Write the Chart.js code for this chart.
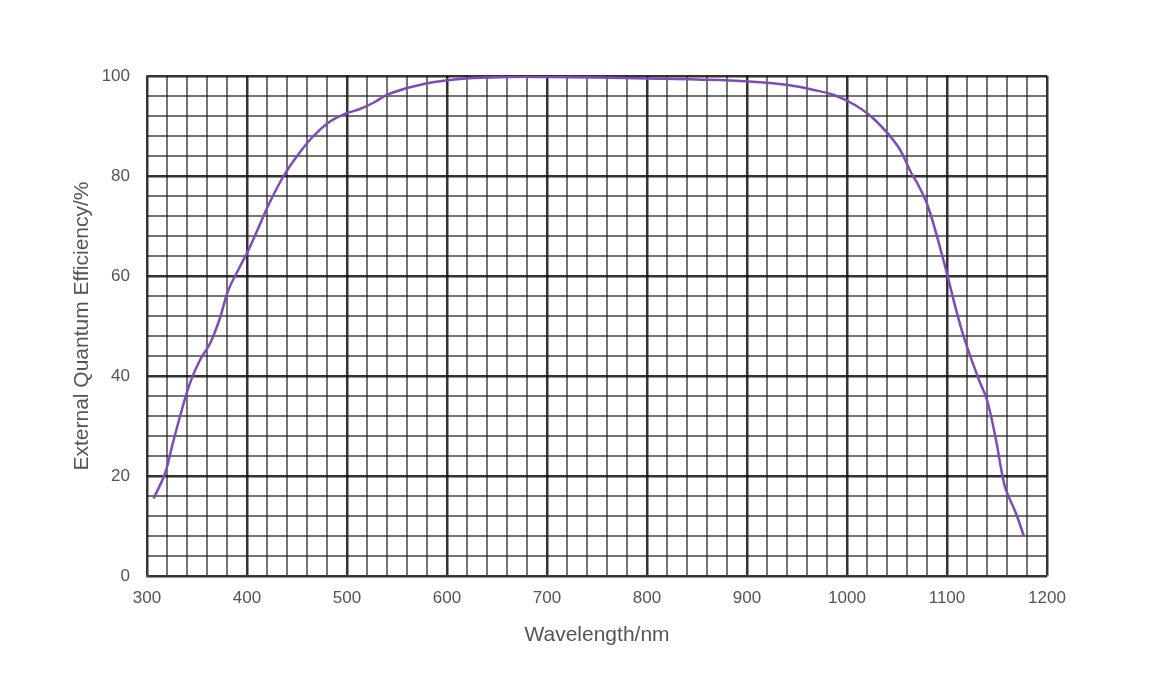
<!DOCTYPE html>
<html>
<head>
<meta charset="utf-8">
<script src="https://cdn.jsdelivr.net/npm/chart.js@4"></script>
<style>
  html,body{margin:0;padding:0;background:#fff;}
  #wrap{width:1172px;height:695px;}
</style>
</head>
<body>
<div id="wrap"><canvas id="eqe"></canvas></div>
<script>
// EQE curve
const wavelength = [306.6, 318, 325, 333, 343, 353, 363, 373, 381, 393, 401, 410, 421, 436, 449, 466, 483, 499, 513, 526, 543, 579, 619, 662, 700, 750, 802, 850, 902, 941, 967, 987, 1008, 1028, 1051, 1064, 1071, 1081, 1096, 1115, 1132, 1140, 1149, 1155, 1159, 1169, 1177];
const eqe        = [15.5, 20.5, 25.9, 31.9, 38.6, 43.2, 46.5, 51.6, 57.0, 61.9, 65.0, 69.0, 74.0, 79.8, 83.7, 87.9, 90.9, 92.5, 93.4, 94.6, 96.5, 98.5, 99.5, 99.8, 99.8, 99.7, 99.5, 99.3, 98.9, 98.2, 97.2, 96.2, 94.2, 91.2, 85.9, 80.7, 78.3, 73.9, 63.5, 49, 39.2, 35.2, 27.2, 20.5, 17.2, 12.5, 7.9];
const xLabelStep = 100, yLabelStep = 20;

const FONT = "'Liberation Sans', Arial, sans-serif";
const gridColor = (major)=> major ? 'rgba(15,15,15,0.85)' : 'rgba(30,30,30,0.62)';

new Chart(document.getElementById('eqe'),{
  type:'line',
  data:{datasets:[{
    data: wavelength.map((w,i)=>({x:w,y:eqe[i]})),
    borderColor:'#7d4cb8', borderWidth:2.5, pointRadius:0,
    tension:0.4, fill:false
  }]},
  options:{
    responsive:true, maintainAspectRatio:false, animation:false,
    layout:{padding:{left:0,top:76,right:125,bottom:40}},
    plugins:{legend:{display:false},tooltip:{enabled:false}},
    scales:{
      x:{type:'linear',min:300,max:1200,
        afterFit:s=>{s.height=79;},
        border:{display:true,color:'rgba(60,60,60,0.7)',width:1.5},
        grid:{drawTicks:false,
          color:c=>gridColor(c.tick && c.tick.value%xLabelStep===0),
          lineWidth:c=>(c.tick && c.tick.value%xLabelStep===0)?2.5:2},
        ticks:{stepSize:20,autoSkip:false,maxRotation:0,padding:12,color:'#555',
          font:{family:FONT,size:17},
          callback:v=> v%xLabelStep===0 ? v : ''},
        title:{display:true,text:'Wavelength/nm',color:'#555',
          font:{family:FONT,size:21},padding:{top:0,bottom:7}}
      },
      y:{min:0,max:100,
        afterFit:s=>{s.width=147;},
        border:{display:true,color:'rgba(60,60,60,0.7)',width:1.5},
        grid:{drawTicks:false,
          color:c=>gridColor(c.tick && c.tick.value%yLabelStep===0),
          lineWidth:c=>(c.tick && c.tick.value%yLabelStep===0)?2.5:2},
        ticks:{stepSize:4,autoSkip:false,padding:17,color:'#555',
          font:{family:FONT,size:17},
          callback:v=> v%yLabelStep===0 ? v : ''},
        title:{display:true,text:'External Quantum Efficiency/%',color:'#555',
          font:{family:FONT,size:21},padding:{top:70,bottom:0}}
      }
    }
  }
});
</script>
</body>
</html>
